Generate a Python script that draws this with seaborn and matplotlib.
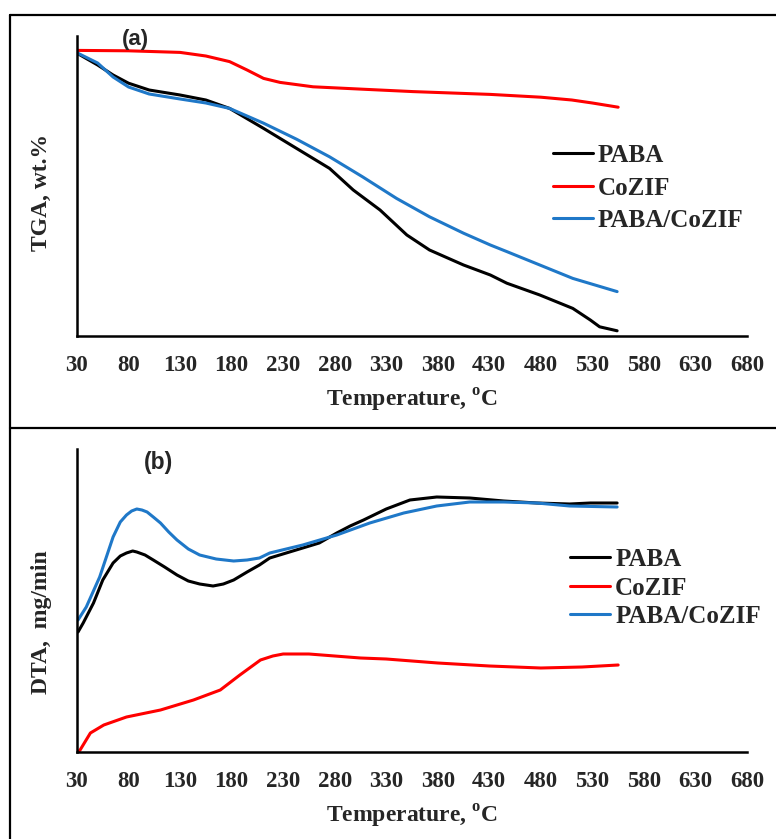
import matplotlib
matplotlib.use("Agg")
import matplotlib.pyplot as plt
from matplotlib.lines import Line2D
import seaborn as sns

# ---- TGA (panel a), wt.% ----
tga_paba_T = [30, 50, 65, 80, 100, 130, 155, 178, 211, 243, 275, 298, 324, 350, 372,
              405, 431, 447, 479, 511, 528, 537, 554]
tga_paba = [99.2, 96.25, 93.75, 91.7, 90.0, 88.75, 87.5, 85.4, 80.4, 75.4, 70.4, 65.0,
            60.0, 53.75, 50.0, 46.25, 43.75, 41.7, 38.75, 35.4, 32.5, 30.8, 29.8]

tga_cozif_T = [30, 80, 130, 155, 178, 195, 211, 227, 259, 307, 356, 431, 480, 510, 530, 555]
tga_cozif = [99.9, 99.8, 99.4, 98.5, 97.1, 95.0, 92.9, 91.9, 90.8, 90.2, 89.6, 88.9,
             88.2, 87.5, 86.75, 85.7]

tga_comp_T = [30, 50, 65, 80, 100, 130, 155, 178, 211, 243, 275, 307, 340, 372, 405,
              431, 447, 479, 511, 554]
tga_comp = [99.3, 96.75, 93.25, 90.75, 89.0, 87.75, 86.75, 85.4, 81.7, 77.7, 73.3, 68.3,
            62.9, 58.3, 54.2, 51.25, 49.6, 46.25, 42.9, 39.6]

# ---- DTA (panel b), mg/min ----
dta_paba_T = [31, 36, 46, 55, 65, 72, 78, 84, 88, 96, 104, 115, 127, 138, 149, 162, 172,
              182, 195, 207, 217, 233, 249, 265, 282, 295, 308, 330, 353, 379, 411, 444,
              476, 508, 528, 554]
dta_paba = [1.20, 1.29, 1.49, 1.72, 1.89, 1.96, 1.99, 2.01, 2.00, 1.97, 1.92, 1.85, 1.77,
            1.71, 1.68, 1.66, 1.68, 1.72, 1.80, 1.87, 1.94, 1.99, 2.04, 2.09, 2.19, 2.26,
            2.32, 2.43, 2.52, 2.55, 2.54, 2.51, 2.49, 2.48, 2.49, 2.49]

dta_cozif_T = [31, 33, 43, 56, 78, 111, 143, 169, 188, 208, 220, 230, 255, 280, 305, 330,
               355, 380, 430, 480, 520, 555]
dta_cozif = [0.0, 0.02, 0.19, 0.27, 0.35, 0.42, 0.52, 0.62, 0.77, 0.92, 0.96, 0.98, 0.98,
             0.96, 0.94, 0.93, 0.91, 0.89, 0.86, 0.84, 0.85, 0.87]

dta_comp_T = [31, 39, 52, 65, 72, 78, 83, 88, 93, 98, 104, 111, 119, 127, 138, 149, 165,
              182, 195, 207, 217, 249, 282, 314, 347, 379, 411, 444, 476, 508, 554]
dta_comp = [1.32, 1.45, 1.75, 2.15, 2.30, 2.37, 2.41, 2.43, 2.42, 2.40, 2.35, 2.29, 2.20,
            2.12, 2.03, 1.97, 1.93, 1.91, 1.92, 1.94, 1.99, 2.07, 2.17, 2.29, 2.39, 2.46,
            2.50, 2.50, 2.49, 2.46, 2.45]

labels = ['PABA', 'CoZIF', 'PABA/CoZIF']
colors = ['black', '#ff0000', '#1f78c8']
xticks = list(range(30, 681, 50))

sns.set_style('white')
plt.rcParams['font.family'] = ['Liberation Serif', 'DejaVu Serif']
plt.rcParams['font.weight'] = 'bold'
plt.rcParams['mathtext.fontset'] = 'custom'
plt.rcParams['mathtext.rm'] = 'Liberation Serif:bold'
plt.rcParams['mathtext.bf'] = 'Liberation Serif:bold'

fig = plt.figure(figsize=(7.76, 8.39), dpi=100)
W, H = 776, 839
ax1 = fig.add_axes([77 / W, 1 - 336 / H, 670 / W, 300 / H])
ax2 = fig.add_axes([77 / W, 1 - 752 / H, 670 / W, 303 / H])


def style_axis(ax):
    sns.despine(ax=ax)
    for s in ['left', 'bottom']:
        ax.spines[s].set_color('black')
        ax.spines[s].set_linewidth(1.8)
    ax.set_xlim(30, 680)
    ax.set_xticks(xticks)
    ax.set_xticklabels([str(t) for t in xticks], fontsize=16.5, fontweight='bold')
    ax.set_yticks([])
    ax.tick_params(axis='x', direction='out', length=6.5, width=1.8, color='black', pad=7)
    ax.set_xlabel(r'Temperature, $^{\mathbf{o}}$C', fontsize=17, fontweight='bold', labelpad=8)


# panel (a)
series_a = [(tga_paba_T, tga_paba), (tga_cozif_T, tga_cozif), (tga_comp_T, tga_comp)]
for (t, v), lab, c in zip(series_a, labels, colors):
    sns.lineplot(x=t, y=v, ax=ax1, color=c, linewidth=2.2, label=lab)
ax1.set_ylim(28.5, 103.5)
style_axis(ax1)
ax1.set_ylabel('TGA, wt.%', fontsize=17, fontweight='bold')
ax1.yaxis.set_label_coords(-0.037, 0.48)
ax1.text(86.8, 102.75, '(a)', fontsize=16, fontweight='bold', family='Liberation Sans',
         ha='center', va='center')
ax1.legend(loc='center left', bbox_to_anchor=(0.710, 0.493), frameon=False, fontsize=18,
           handlelength=1.6, handletextpad=0.2, labelspacing=0.38, borderpad=0,
           borderaxespad=0)

# panel (b)
series_b = [(dta_paba_T, dta_paba), (dta_cozif_T, dta_cozif), (dta_comp_T, dta_comp)]
for (t, v), lab, c in zip(series_b, labels, colors):
    sns.lineplot(x=t, y=v, ax=ax2, color=c, linewidth=2.2, label=lab)
ax2.set_ylim(0, 3.03)
style_axis(ax2)
ax2.set_ylabel('DTA,  mg/min', fontsize=17, fontweight='bold')
ax2.yaxis.set_label_coords(-0.037, 0.43)
ax2.text(108.6, 2.9, '(b)', fontsize=16.5, fontweight='bold', family='Liberation Sans',
         ha='center', va='center')
ax2.legend(loc='center left', bbox_to_anchor=(0.736, 0.541), frameon=False, fontsize=18,
           handlelength=1.6, handletextpad=0.2, labelspacing=0.22, borderpad=0,
           borderaxespad=0)

# panel frames
fig.add_artist(Line2D([10 / W, 1], [1 - 14.5 / H, 1 - 14.5 / H], color='black', lw=1.6))
fig.add_artist(Line2D([10 / W, 1], [1 - 428 / H, 1 - 428 / H], color='black', lw=1.6))
fig.add_artist(Line2D([10 / W, 10 / W], [1 - 14.5 / H, 0], color='black', lw=1.6))

fig.savefig('out.png', dpi=100)
